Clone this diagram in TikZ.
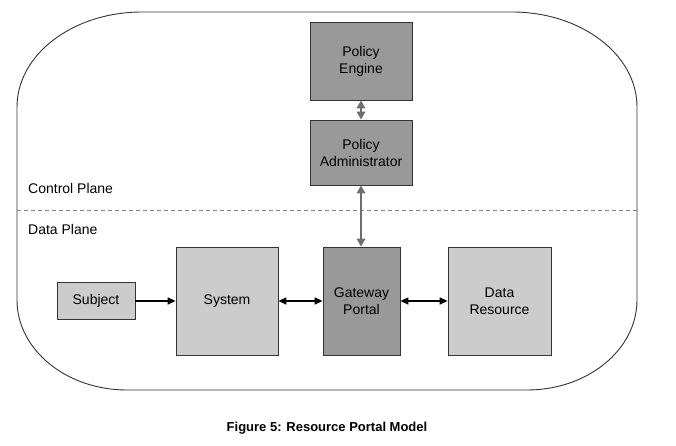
\documentclass[tikz,border=0pt]{standalone}
\usepackage{fontspec}
\setmainfont{Liberation Sans}
\usetikzlibrary{arrows.meta}
\definecolor{darkfill}{RGB}{153,153,153}
\definecolor{lightfill}{RGB}{204,204,204}
\definecolor{edgecol}{RGB}{51,51,51}
\definecolor{arrowgray}{RGB}{110,110,110}
\definecolor{dashgray}{RGB}{130,130,130}
\begin{document}
\begin{tikzpicture}[x=1pt,y=1pt,
  box/.style={draw=edgecol, line width=0.8pt, align=center, inner sep=0pt,
    font=\fontsize{14}{17}\selectfont},
  darkbox/.style={box, fill=darkfill},
  lightbox/.style={box, fill=lightfill},
  grayarrow/.style={draw=arrowgray, line width=1.8pt, {Triangle[length=8pt,width=8.5pt]}-{Triangle[length=8pt,width=8.5pt]}},
  blackarrow/.style={draw=black, line width=1.3pt},
  lbl/.style={anchor=west, inner sep=0pt, font=\fontsize{14}{17}\selectfont}]
\useasboundingbox (0,0) rectangle (676,445);
% outer rounded frame
\draw[edgecol, line width=0.9pt]
  (17,338) arc[start angle=180,end angle=90,x radius=125pt,y radius=95pt]
  -- (512,433) arc[start angle=90,end angle=0,x radius=125pt,y radius=95pt]
  -- (637,145) arc[start angle=0,end angle=-90,x radius=110pt,y radius=90pt]
  -- (127,55) arc[start angle=-90,end angle=-180,x radius=110pt,y radius=90pt]
  -- cycle;
% plane separator
\coordinate (sepL) at (17,235);
\coordinate (sepR) at (637,235);
\draw[dashgray, line width=1pt, dash pattern=on 4pt off 3pt] (sepL) -- (sepR);
\node[lbl] (cp) at (28,257) {Control Plane};
\node[lbl] (dp) at (28,216) {Data Plane};
% nodes
\node[darkbox, minimum width=102pt, minimum height=78pt] (pe) at (361,384) {Policy\\Engine};
\node[darkbox, minimum width=102pt, minimum height=65pt] (pa) at (361,292.5) {Policy\\Administrator};
\node[darkbox, minimum width=77pt, minimum height=108pt] (gw) at (361.5,144) {Gateway\\Portal};
\node[lightbox, minimum width=78pt, minimum height=37pt] (subj) at (96,144) {Subject};
\node[lightbox, minimum width=102pt, minimum height=108pt] (sys) at (227,144) {System};
\node[lightbox, minimum width=103pt, minimum height=108pt] (dr) at (499.5,144) {Data\\Resource};
% connectors
\draw[grayarrow] (pe.south) -- (pa.north);
\draw[grayarrow] (pa.south) -- (gw.north -| pa.south);
\draw[blackarrow, -{Triangle[length=8pt,width=7pt]}] (subj.east) -- (sys.west);
\draw[blackarrow, {Triangle[length=8pt,width=7pt]}-{Triangle[length=8pt,width=7pt]}] (sys.east) -- (gw.west);
\draw[blackarrow, {Triangle[length=8pt,width=7pt]}-{Triangle[length=8pt,width=7pt]}] (gw.east) -- (dr.west);
% caption
\node[font=\bfseries\fontsize{13}{15}\selectfont] (cap) at (327,17) {Figure 5: Resource Portal Model};
\end{tikzpicture}
\end{document}
